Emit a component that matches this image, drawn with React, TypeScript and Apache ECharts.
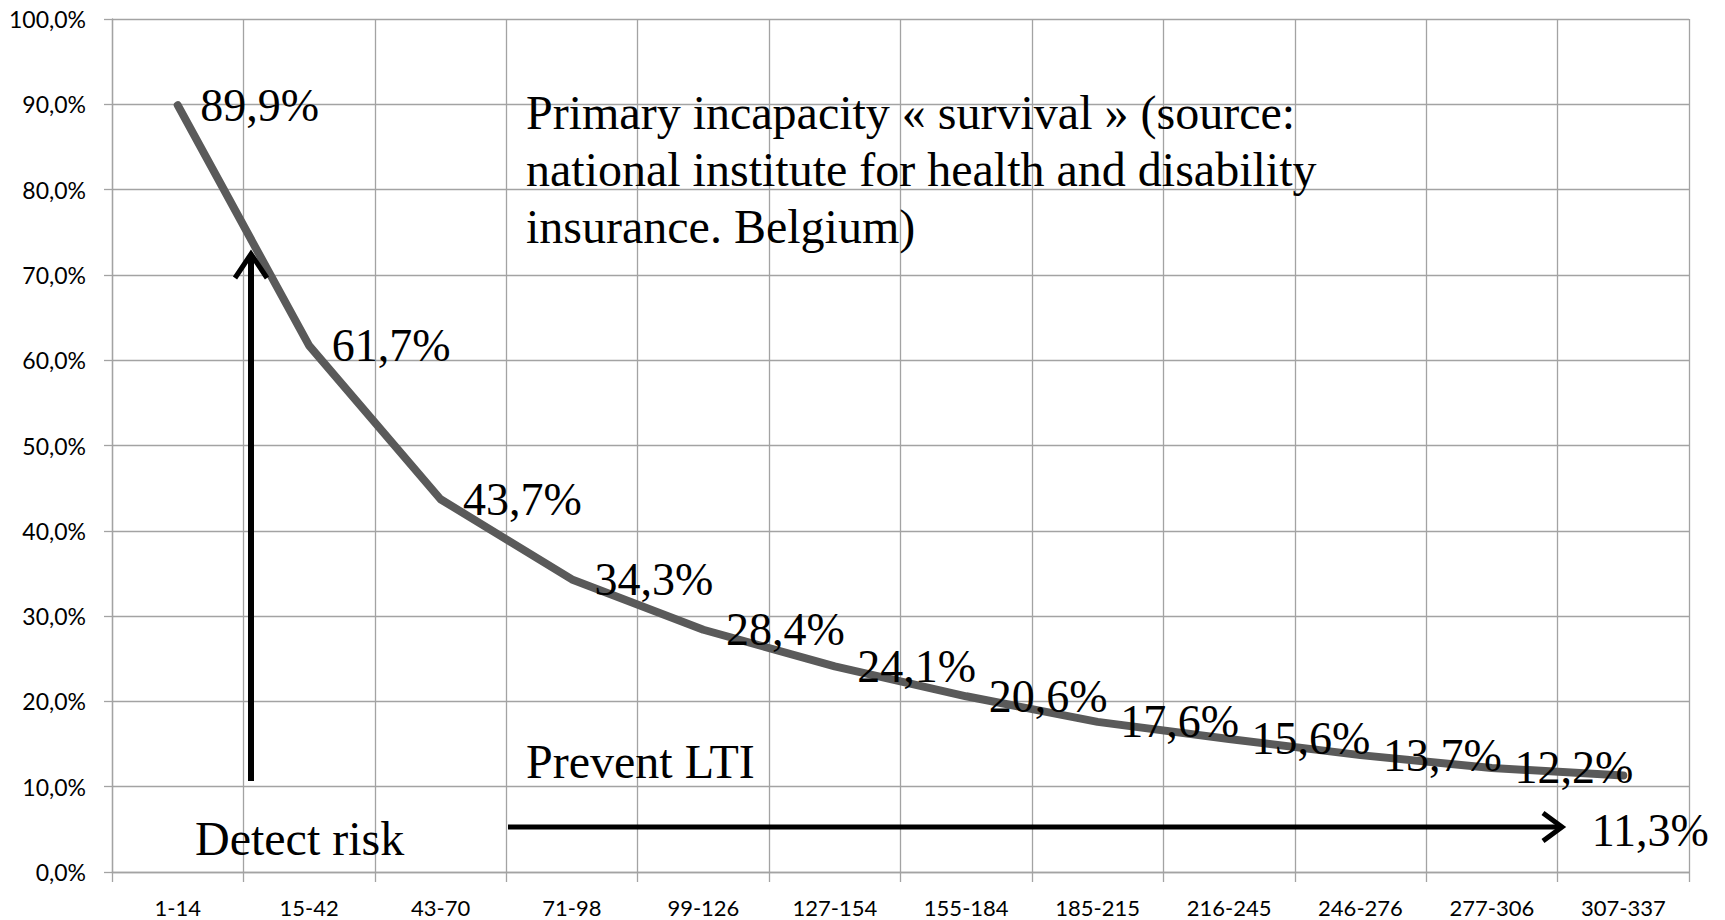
import React, { useEffect, useRef } from "react";
import * as echarts from "echarts";

const categories = ["1-14", "15-42", "43-70", "71-98", "99-126", "127-154", "155-184", "185-215", "216-245", "246-276", "277-306", "307-337"];
const survival = [89.9, 61.7, 43.7, 34.3, 28.4, 24.1, 20.6, 17.6, 15.6, 13.7, 12.2, 11.3];
const yTicks = { min: 0, max: 100, interval: 10 };
const titleLines = ["Primary incapacity « survival » (source:", "national institute for health and disability", "insurance. Belgium)"];
const detectText = "Detect risk";
const preventText = "Prevent LTI";

const fmt = (v: number) => v.toFixed(1).replace(".", ",") + "%";

export default function App() {
  const ref = useRef<HTMLDivElement>(null);
  useEffect(() => {
    if (!ref.current) return;
    const chart = echarts.init(ref.current, null, { renderer: "svg" });
    const serif = "'Liberation Serif', 'Times New Roman', serif";
    const sans = "Lato, 'Open Sans', sans-serif";
    const gridColor = "#a3a3a3";
    const arrowStyle = { stroke: "#000", lineWidth: 6, fill: null, lineCap: "butt" };
    const lastIdx = survival.length - 1;
    chart.setOption({
      animation: false,
      backgroundColor: "#fff",
      grid: { left: 112, right: 36, top: 19, bottom: 48, containLabel: false },
      xAxis: {
        type: "category",
        data: categories,
        boundaryGap: true,
        axisLine: { show: true, lineStyle: { color: gridColor, width: 1.3 } },
        axisTick: { show: true, length: 10, lineStyle: { color: gridColor, width: 1.3 } },
        axisLabel: { color: "#000", fontFamily: sans, fontSize: 22, margin: 24, interval: 0 },
        splitLine: { show: true, lineStyle: { color: gridColor, width: 1.3 } },
      },
      yAxis: {
        type: "value",
        min: yTicks.min,
        max: yTicks.max,
        interval: yTicks.interval,
        axisLine: { show: true, lineStyle: { color: gridColor, width: 1.3 } },
        axisTick: { show: true, length: 8, lineStyle: { color: gridColor, width: 1.3 } },
        axisLabel: { color: "#000", fontFamily: sans, fontSize: 23, margin: 26, formatter: (v: number) => fmt(v) },
        splitLine: { show: true, lineStyle: { color: gridColor, width: 1.3 } },
      },
      series: [
        {
          type: "line",
          data: survival.map((v, i) =>
            i === lastIdx
              ? { value: v, label: { position: [-31, 55], align: "left", verticalAlign: "middle", offset: [0, 0] } }
              : { value: v }
          ),
          showSymbol: true,
          symbol: "circle",
          symbolSize: 1,
          itemStyle: { color: "rgba(0,0,0,0)", borderWidth: 0 },
          lineStyle: { color: "#5a5a5a", width: 8, cap: "round", join: "round" },
          label: {
            show: true,
            position: "right",
            distance: 22,
            offset: [0, 6],
            color: "#000",
            fontFamily: serif,
            fontSize: 46,
            formatter: (p: any) => fmt(p.value),
          },
          labelLayout: { hideOverlap: false },
          z: 3,
        },
      ],
      graphic: [
        {
          type: "text",
          left: 526,
          top: 84,
          z: 10,
          style: {
            text: titleLines.join("\n"),
            fontFamily: serif,
            fontSize: 48,
            lineHeight: 57,
            fill: "#000",
          },
        },
        {
          type: "text",
          left: 526,
          top: 733,
          z: 10,
          style: { text: preventText, fontFamily: serif, fontSize: 48, lineHeight: 57, fill: "#000" },
        },
        {
          type: "text",
          left: 195,
          top: 810,
          z: 10,
          style: { text: detectText, fontFamily: serif, fontSize: 48, lineHeight: 57, fill: "#000" },
        },
        {
          type: "line",
          z: 9,
          shape: { x1: 251, y1: 781, x2: 251, y2: 256 },
          style: arrowStyle,
        },
        {
          type: "polyline",
          z: 9,
          shape: { points: [[235, 278], [251, 254], [267, 278]] },
          style: { ...arrowStyle, lineWidth: 5 },
        },
        {
          type: "line",
          z: 9,
          shape: { x1: 508, y1: 827, x2: 1559, y2: 827 },
          style: { ...arrowStyle, lineWidth: 5 },
        },
        {
          type: "polyline",
          z: 9,
          shape: { points: [[1543, 813], [1562, 827], [1543, 841]] },
          style: { ...arrowStyle, lineWidth: 5 },
        },
      ],
    });
    return () => chart.dispose();
  }, []);
  return (
    <div
      ref={ref}
      style={{ position: "absolute", left: 0, top: 0, width: 1725, height: 920, background: "#fff" }}
    />
  );
}
